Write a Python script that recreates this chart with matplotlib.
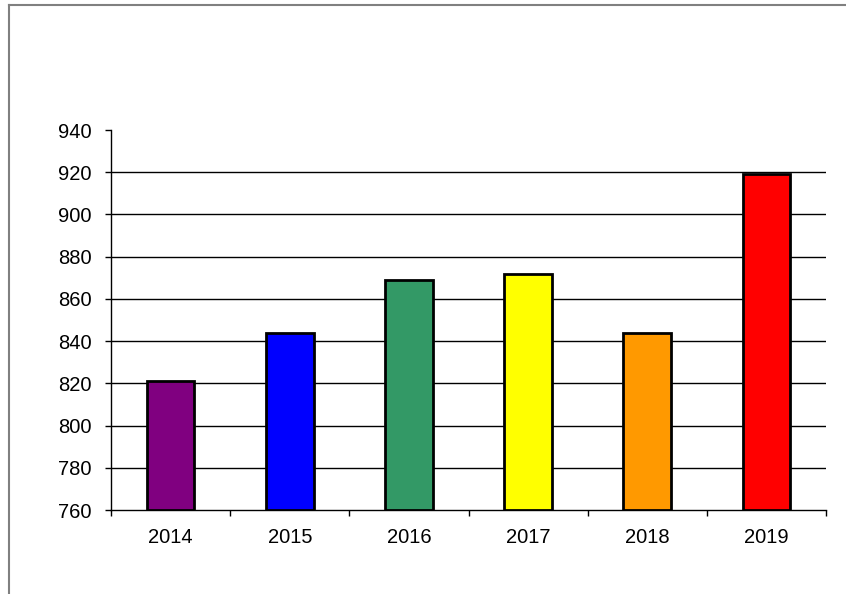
import matplotlib
matplotlib.use("Agg")
import matplotlib.pyplot as plt
from matplotlib.lines import Line2D
import numpy as np

years = ["2014", "2015", "2016", "2017", "2018", "2019"]
values = [821, 844, 869, 872, 844, 919]
colors = ["#800080", "#0000FF", "#339966", "#FFFF00", "#FF9900", "#FF0000"]
y_ticks = [760, 780, 800, 820, 840, 860, 880, 900, 920, 940]

W, H = 846, 594
plt.rcParams["font.family"] = ["Liberation Sans", "DejaVu Sans"]
fig = plt.figure(figsize=(W / 100, H / 100), dpi=100)

# axes box in pixel coordinates
left, right, top, bottom = 111, 826, 130, 510
ax = fig.add_axes([left / W, 1 - bottom / H, (right - left) / W, (bottom - top) / H])

x = np.arange(len(years))
base = y_ticks[0]
ax.bar(x, [v - base for v in values], bottom=base, width=0.4, color=colors,
       edgecolor="black", linewidth=2, zorder=3)

ax.set_xlim(-0.5, len(years) - 0.5)
ax.set_ylim(y_ticks[0], y_ticks[-1])
ax.set_yticks(y_ticks)
ax.tick_params(axis="y", labelsize=14.5, length=4, width=1, direction="out", pad=10)

# category labels centered, tick marks at the boundaries
ax.set_xticks(x)
ax.set_xticklabels(years, fontsize=14.5)
ax.tick_params(axis="x", which="major", length=0, pad=13)
ax.set_xticks(np.arange(len(years) + 1) - 0.5, minor=True)
ax.tick_params(axis="x", which="minor", length=4, width=1, direction="out")

for v in y_ticks[1:-1]:
    ax.axhline(v, color="black", linewidth=1, zorder=1)

for s in ["top", "right"]:
    ax.spines[s].set_visible(False)
ax.spines["left"].set_linewidth(1)
ax.spines["bottom"].set_linewidth(1)

# outer chart-area border (left and top only)
fig.add_artist(Line2D([9 / W, 9 / W], [0, 1 - 5 / H], color="#808080", linewidth=1.5,
                      transform=fig.transFigure))
fig.add_artist(Line2D([9 / W, 845 / W], [1 - 5 / H, 1 - 5 / H], color="#808080",
                      linewidth=1.5, transform=fig.transFigure))

fig.savefig("out.png", dpi=100)
